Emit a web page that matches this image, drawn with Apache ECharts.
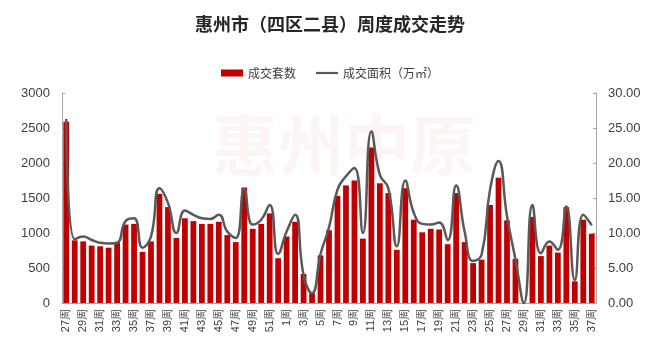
<!DOCTYPE html>
<html><head><meta charset="utf-8">
<script src="https://cdn.jsdelivr.net/npm/echarts@6/dist/echarts.min.js"></script>
<style>html,body{margin:0;padding:0;background:#fff}#c{width:660px;height:360px}</style>
</head><body><div id="c"></div>
<script>
const weeks = ["27周","28周","29周","30周","31周","32周","33周","34周","35周","36周","37周","38周","39周","40周","41周","42周","43周","44周","45周","46周","47周","48周","49周","50周","51周","52周","1周","2周","3周","4周","5周","6周","7周","8周","9周","10周","11周","12周","13周","14周","15周","16周","17周","18周","19周","20周","21周","22周","23周","24周","25周","26周","27周","28周","29周","30周","31周","32周","33周","34周","35周","36周","37周"];
const units = [2590,895,880,820,810,790,870,1120,1130,730,880,1560,1370,930,1210,1170,1130,1130,1160,970,870,1650,1060,1130,1280,640,950,1160,415,140,680,1040,1530,1680,1750,920,2220,1710,1570,760,1640,1190,1010,1060,1050,840,1570,870,570,620,1400,1790,1180,630,0,1230,670,820,720,1370,310,1190,990];
const area = [26.3,9.1,9.5,9.0,8.6,8.5,8.6,11.7,12.1,7.9,9.5,16.4,14.3,10.0,13.2,12.6,12.1,12.0,12.6,10.2,9.3,16.3,11.2,11.9,14.0,7.0,10.2,12.6,4.0,1.4,7.0,10.8,16.2,18.1,19.3,10.0,24.5,18.3,16.4,8.1,17.5,12.9,11.3,11.2,11.5,9.0,16.8,10.2,6.0,6.9,16.2,20.3,12.4,6.2,0,14.0,7.1,8.8,7.6,13.8,3.3,12.6,11.1];
const leftTicks = [0,3000,500];
const rightTicks = [0,30,5];

const chart = echarts.init(document.getElementById('c'));
const txt = '#404040';
chart.setOption({
  animation:false,
  title:{text:'惠州市（四区二县）周度成交走势',left:'center',top:10,
    textStyle:{fontSize:18,fontWeight:'bold',color:'#262626',fontFamily:'Noto Sans CJK SC'}},
  graphic:[{type:'text',left:212,top:112,z:-1,style:{text:'惠州中原',fontSize:66,fontWeight:'bold',fill:'rgba(230,110,110,0.08)',fontFamily:'Noto Sans CJK SC'}}],
  legend:{top:62,left:'center',itemGap:20,itemWidth:22,itemHeight:7,
    textStyle:{fontSize:12,color:txt,fontFamily:'Noto Sans CJK SC'},
    data:[{name:'成交套数',icon:'rect'},{name:'成交面积（万㎡）',icon:'path://M0,0L10,0L10,1L0,1Z'}]},
  grid:{left:62,right:64,top:93,bottom:57},
  xAxis:{type:'category',data:weeks,
    axisLine:{lineStyle:{color:'#a6a6a6'}},axisTick:{show:false},
    axisLabel:{interval:1,rotate:90,fontSize:11,color:txt,margin:6,fontFamily:'Liberation Sans'}},
  yAxis:[
    {type:'value',min:leftTicks[0],max:leftTicks[1],interval:leftTicks[2],
     axisLine:{show:true,lineStyle:{color:'#a6a6a6'}},axisTick:{show:true,inside:true,length:3,lineStyle:{color:'#a6a6a6'}},
     splitLine:{show:false},axisLabel:{fontSize:13,color:txt,margin:12,fontFamily:'Liberation Sans',formatter:v=>String(v)}},
    {type:'value',min:rightTicks[0],max:rightTicks[1],interval:rightTicks[2],
     axisLine:{show:true,lineStyle:{color:'#a6a6a6'}},axisTick:{show:true,inside:true,length:3,lineStyle:{color:'#a6a6a6'}},
     splitLine:{show:false},axisLabel:{fontSize:13,color:txt,margin:12,fontFamily:'Liberation Sans',formatter:v=>v.toFixed(2)}}
  ],
  series:[
    {name:'成交套数',type:'bar',data:units,barCategoryGap:'32%',itemStyle:{color:'#C00000'}},
    {name:'成交面积（万㎡）',type:'line',yAxisIndex:1,data:area,smooth:0.5,symbol:'none',
     lineStyle:{color:'#595959',width:2.5},itemStyle:{color:'#595959'}}
  ]
});
</script></body></html>
